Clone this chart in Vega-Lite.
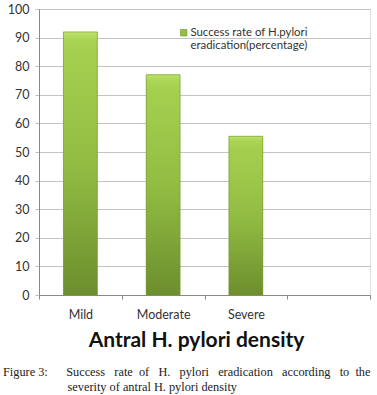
{
  "$schema": "https://vega.github.io/schema/vega-lite/v6.json",
  "width": 331,
  "height": 286,
  "autosize": "none",
  "padding": {"left": 39, "top": 9, "right": 7, "bottom": 100},
  "background": "white",
  "data": {
    "values": [
      {"density": "Mild", "rate": 92},
      {"density": "Moderate", "rate": 77},
      {"density": "Severe", "rate": 55.5}
    ]
  },
  "title": {
    "text": ["Figure 3:\u00a0\u00a0\u00a0\u00a0\u00a0\u00a0Success \u00a0\u00a0rate \u00a0of \u00a0\u00a0H. \u00a0\u00a0pylori \u00a0\u00a0eradication \u00a0\u00a0according \u00a0\u00a0to \u00a0the", "\u200b\u00a0\u00a0\u00a0\u00a0\u00a0\u00a0\u00a0\u00a0\u00a0\u00a0\u00a0\u00a0\u00a0\u00a0\u00a0\u00a0\u00a0\u00a0\u00a0\u00a0\u00a0severity of antral H. pylori density"],
    "orient": "bottom",
    "anchor": "start",
    "frame": "group",
    "dx": -36,
    "offset": 15,
    "font": "Liberation Serif",
    "fontSize": 12.3,
    "fontWeight": "normal",
    "color": "#222222",
    "lineHeight": 15
  },
  "encoding": {
    "x": {
      "field": "density",
      "type": "nominal",
      "scale": {"domain": ["Mild", "Moderate", "Severe", ""], "paddingInner": 0, "paddingOuter": 0},
      "axis": {
        "title": "Antral H. pylori density",
        "titleFont": "Lato",
        "titleFontSize": 21,
        "titleFontWeight": "bold",
        "titleColor": "#111111",
        "titlePadding": 9,
        "titleX": 157,
        "labelAngle": 0,
        "labelFont": "Lato",
        "labelFontSize": 12.5,
        "labelColor": "#333333",
        "labelPadding": 9,
        "tickBand": "extent",
        "tickSize": 4,
        "tickColor": "#888888",
        "domainColor": "#888888"
      }
    },
    "y": {
      "field": "rate",
      "type": "quantitative",
      "scale": {"domain": [0, 100], "nice": false},
      "axis": {
        "title": null,
        "values": [0, 10, 20, 30, 40, 50, 60, 70, 80, 90, 100],
        "labelFont": "Lato",
        "labelFontSize": 12.5,
        "labelColor": "#333333",
        "labelPadding": 6,
        "tickSize": 4,
        "tickColor": "#bfbfbf",
        "domainColor": "#888888",
        "grid": true,
        "gridColor": "#c4c4c4",
        "gridWidth": 1
      }
    }
  },
  "layer": [
    {
      "mark": {"type": "bar", "width": {"band": 0.41}},
      "encoding": {
        "color": {
          "datum": "Success rate of H.pylori eradication(percentage)",
          "type": "nominal",
          "scale": {"range": ["#93c040"]},
          "legend": {
            "title": null,
            "orient": "none",
            "legendX": 139,
            "legendY": 18,
            "padding": 0,
            "symbolType": "square",
            "symbolSize": 42,
            "symbolStrokeColor": "#6e8f2a",
            "symbolStrokeWidth": 0.6,
            "labelFont": "Lato",
            "labelFontSize": 11.4,
            "labelColor": "#333333",
            "labelOffset": 1,
            "labelLimit": 300,
            "labelExpr": "['Success rate of H.pylori', 'eradication(percentage)']",
            "labelLineHeight": 15
          }
        }
      }
    },
    {
      "mark": {
        "type": "bar",
        "width": {"band": 0.41},
        "stroke": "#76962f",
        "strokeWidth": 0.6,
        "fill": {
          "gradient": "linear",
          "x1": 0, "y1": 0, "x2": 0, "y2": 1,
          "stops": [
            {"offset": 0, "color": "#bde26a"},
            {"offset": 0.03, "color": "#aad454"},
            {"offset": 0.08, "color": "#a4cf4e"},
            {"offset": 0.5, "color": "#92bd43"},
            {"offset": 1, "color": "#6c8e2d"}
          ]
        }
      }
    }
  ]
}
